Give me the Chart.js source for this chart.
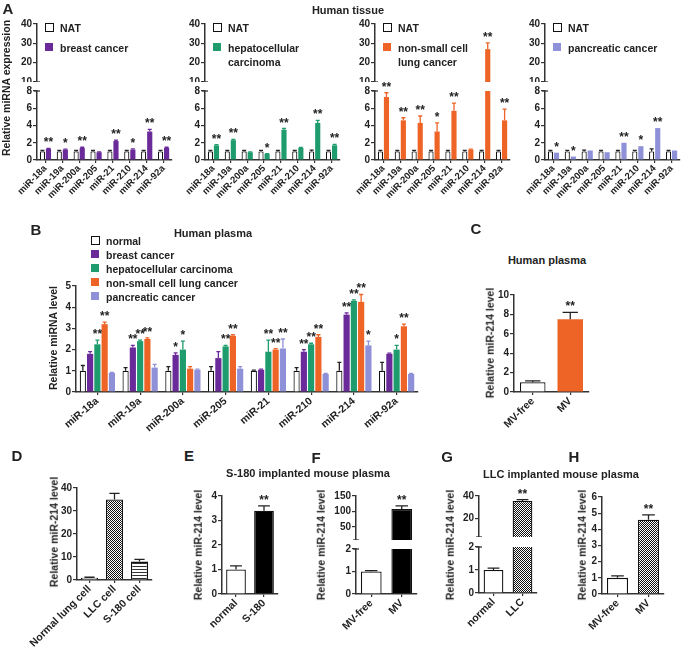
<!DOCTYPE html>
<html>
<head>
<meta charset="utf-8">
<script src="https://cdn.jsdelivr.net/npm/chart.js@4.4.1/dist/chart.umd.min.js"></script>
<style>
body { margin: 0; background: #fff; }
#fig { position: relative; width: 685px; height: 651px; overflow: hidden; font-family: "Liberation Sans", Arial, sans-serif; font-weight: bold; color: #222; }
#fig canvas { position: absolute; }
.t { position: absolute; white-space: nowrap; line-height: 1; transform: translate(-50%, -50%); }
.yt { transform: translate(-50%, -50%) rotate(-90deg); }
.lg { position: absolute; white-space: nowrap; font-size: 10.5px; line-height: 14px; }
.sw { position: absolute; width: 8px; height: 8px; }
</style>
</head>
<body>
<div id="fig"></div>
<script>
// --=| data
const miRNAs = ["miR-18a", "miR-19a", "miR-200a", "miR-205", "miR-21", "miR-210", "miR-214", "miR-92a"];

// A - human tissue
const natTissue = [1, 1, 1, 1, 1, 1, 1, 1];
const natErrBreast = [0.1, 0.1, 0.1, 0.1, 0.1, 0.1, 0.1, 0.12];
const natErrHcc = [0.1, 0.1, 0.1, 0.12, 0.1, 0.1, 0.15, 0.1];
const natErrNsclc = [0.12, 0.1, 0.12, 0.1, 0.1, 0.12, 0.1, 0.1];
const natErrPanc = [0.1, 0.12, 0.15, 0.1, 0.1, 0.12, 0.3, 0.1];
const breastTissue = [1.3, 1.2, 1.4, 0.9, 2.2, 1.2, 3.3, 1.4];
const breastTissueErr = [0.05, 0.05, 0.08, 0.05, 0.1, 0.08, 0.25, 0.08];
const breastTissueSig = ["**", "*", "**", "", "**", "*", "**", "**"];
const hccTissue = [1.7, 2.3, 0.9, 0.7, 3.5, 1.4, 4.3, 1.7];
const hccTissueErr = [0.08, 0.1, 0.05, 0.05, 0.15, 0.05, 0.3, 0.1];
const hccTissueSig = ["**", "**", "", "*", "**", "", "**", "**"];
const nsclcTissue = [7.3, 4.6, 4.3, 3.3, 5.7, 1.2, 27, 4.6];
const nsclcTissueErr = [0.5, 0.3, 0.8, 1.0, 0.9, 0.05, 3.2, 1.3];
const nsclcTissueSig = ["**", "**", "**", "*", "**", "", "**", "**"];
const pancTissue = [0.85, 0.4, 1.1, 0.9, 2.0, 1.6, 3.7, 1.1];
const pancTissueErr = [0, 0, 0, 0, 0, 0, 0, 0];
const pancTissueSig = ["*", "*", "", "", "**", "*", "**", ""];
const ticksALow = [0, 2, 4, 6, 8];
const ticksAHigh = [10, 20, 30, 40];

// B - human plasma
const normalPlasma = [1, 1, 1, 1, 1, 1, 1, 1];
const normalPlasmaErr = [0.25, 0.15, 0.2, 0.2, 0.03, 0.15, 0.4, 0.4];
const breastPlasma = [1.8, 2.1, 1.75, 1.6, 1.05, 1.9, 3.65, 1.8];
const breastPlasmaErr = [0.1, 0.1, 0.1, 0.3, 0.03, 0.1, 0.08, 0.03];
const breastPlasmaSig = ["", "**", "*", "", "", "**", "**", ""];
const hccPlasma = [2.25, 2.4, 2.0, 2.15, 1.9, 2.25, 4.3, 2.0];
const hccPlasmaErr = [0.2, 0.05, 0.4, 0.05, 0.55, 0.05, 0.05, 0.2];
const hccPlasmaSig = ["**", "**", "*", "**", "**", "**", "**", "*"];
const nsclcPlasma = [3.2, 2.5, 1.1, 2.65, 2.0, 2.6, 4.25, 3.1];
const nsclcPlasmaErr = [0.1, 0.05, 0.1, 0.05, 0.05, 0.1, 0.35, 0.1];
const nsclcPlasmaSig = ["**", "**", "", "**", "**", "**", "**", "**"];
const pancPlasma = [0.9, 1.15, 1.05, 1.1, 2.05, 0.85, 2.2, 0.85];
const pancPlasmaErr = [0.03, 0.15, 0.03, 0.1, 0.45, 0.03, 0.2, 0.03];
const pancPlasmaSig = ["", "", "", "", "**", "", "*", ""];
const ticksB = [0, 1, 2, 3, 4, 5];

// C - human plasma, miR-214
const mvLabels = ["MV-free", "MV"];
const cVals = [1.0, 7.5];
const cErr = [0.15, 0.7];
const cSig = ["", "**"];
const ticksC = [0, 2, 4, 6, 8, 10];

// D - cells
const dLabels = ["Normal lung cell", "LLC cell", "S-180 cell"];
const dVals = [1, 35, 8];
const dErr = [0.2, 2.7, 1];
const ticksD = [0, 10, 20, 30, 40];

// E - S-180 mouse plasma
const eLabels = ["normal", "S-180"];
const eVals = [1.0, 3.4];
const eErr = [0.15, 0.2];
const eSig = ["", "**"];
const ticksE = [0, 1, 2, 3, 4];

// F - S-180 mouse plasma MV
const fVals = [1.0, 108];
const fErr = [0.04, 10];
const fSig = ["", "**"];
const ticksFLow = [0, 1, 2];
const ticksFHigh = [50, 100, 150];

// G - LLC mouse plasma
const gLabels = ["normal", "LLC"];
const gVals = [1.0, 35.5];
const gErr = [0.08, 1.2];
const gSig = ["", "**"];
const ticksGLow = [0, 1, 2];
const ticksGHigh = [20, 40];

// H - LLC mouse plasma MV
const hVals = [1.0, 4.6];
const hErr = [0.12, 0.3];
const hSig = ["", "**"];
const ticksH = [0, 1, 2, 3, 4, 5, 6];

// --=| style
const purple = "#6B2A9A", green = "#1E9C6D", orange = "#EE6427", lavender = "#8E91D7";
const ink = "#222";
Chart.defaults.font.family = '"Liberation Sans", Arial, sans-serif';
Chart.defaults.font.weight = "bold";
Chart.defaults.font.size = 10;
Chart.defaults.color = ink;

const fig = document.getElementById("fig");

function checker() {
  const c = document.createElement("canvas");
  c.width = c.height = 2;
  const g = c.getContext("2d");
  g.fillStyle = "#fff"; g.fillRect(0, 0, 2, 2);
  g.fillStyle = "#111"; g.fillRect(0, 0, 1, 1); g.fillRect(1, 1, 1, 1);
  return g.createPattern(c, "repeat");
}
function stripes() {
  const c = document.createElement("canvas");
  c.width = 4; c.height = 3;
  const g = c.getContext("2d");
  g.fillStyle = "#fff"; g.fillRect(0, 0, 4, 3);
  g.fillStyle = "#333"; g.fillRect(0, 0, 4, 1);
  return g.createPattern(c, "repeat");
}

// error bars + asterisks
const errPlugin = {
  id: "errbars",
  afterDatasetsDraw(chart) {
    const ctx = chart.ctx, y = chart.scales.y;
    chart.data.datasets.forEach((ds, i) => {
      chart.getDatasetMeta(i).data.forEach((bar, j) => {
        const v = ds.data[j], e = (ds.err || [])[j] || 0;
        if (v > y.max || v < y.min) return;
        const x = bar.x, y0 = y.getPixelForValue(v), y1 = y.getPixelForValue(v + e);
        ctx.save();
        if (e > 0) {
          ctx.strokeStyle = ds.errColor || ink;
          ctx.lineWidth = 1.3;
          const cw = Math.max(2, bar.width * 0.3);
          ctx.beginPath();
          ctx.moveTo(x, y0); ctx.lineTo(x, y1);
          ctx.moveTo(x - cw, y1); ctx.lineTo(x + cw, y1);
          ctx.stroke();
        }
        const s = (ds.sig || [])[j];
        if (s) {
          ctx.fillStyle = ink;
          ctx.font = 'bold 12px "Liberation Sans", Arial, sans-serif';
          ctx.textAlign = "center";
          ctx.textBaseline = "alphabetic";
          ctx.fillText(s, x, y1 - 2);
        }
        ctx.restore();
      });
    });
  }
};

// y-axis break marks on split axes
const breakPlugin = {
  id: "axisbreak",
  afterDraw(chart, args, opts) {
    if (!opts.at) return;
    const ctx = chart.ctx, a = chart.chartArea;
    const yy = opts.at === "top" ? a.top : a.bottom;
    ctx.save();
    ctx.strokeStyle = "#333";
    ctx.lineWidth = 1.3;
    ctx.beginPath();
    ctx.moveTo(a.left - 3, yy); ctx.lineTo(a.left + 3, yy);
    ctx.stroke();
    ctx.restore();
  }
};

const YW = 34, PT = 18, PR = 8;
function bars(area, o) {
  const xH = o.xH || 0, yw = o.yw || YW;
  const c = document.createElement("canvas");
  c.width = yw + (area[2] - area[0]) + PR;
  c.height = PT + (area[3] - area[1]) + xH;
  c.style.left = (area[0] - yw) + "px";
  c.style.top = (area[1] - PT) + "px";
  fig.appendChild(c);
  return new Chart(c, {
    type: "bar",
    data: { labels: o.labels, datasets: o.datasets },
    options: {
      responsive: false,
      animation: false,
      devicePixelRatio: 1,
      layout: { padding: { top: PT, right: PR, left: 0, bottom: 0 } },
      datasets: { bar: { categoryPercentage: o.cat, barPercentage: o.bar, clip: 0 } },
      plugins: { legend: { display: false }, tooltip: { enabled: false }, axisbreak: { at: o.brk } },
      scales: {
        x: {
          display: xH > 0,
          afterFit(s) { s.height = xH; s.paddingLeft = 0; s.paddingRight = 0; },
          grid: { drawOnChartArea: false, offset: false, tickLength: 3, color: "#333", lineWidth: 1.2 },
          border: { color: "#333", width: 1.5 },
          ticks: { autoSkip: false, minRotation: o.rot || 45, maxRotation: o.rot || 45, padding: 0, font: { size: o.xFont || 10 } }
        },
        y: {
          min: o.min,
          max: o.max,
          afterFit(s) { s.width = yw; s.paddingTop = 0; s.paddingBottom = 0; },
          afterBuildTicks(s) { s.ticks = o.ticks.map(v => ({ value: v })); },
          grid: { drawOnChartArea: false, tickLength: 4, color: "#333", lineWidth: 1.2 },
          border: { color: "#333", width: 1.5 },
          ticks: { padding: 1, font: { size: 10 } }
        }
      }
    },
    plugins: [errPlugin, breakPlugin]
  });
}

function text(str, x, y, size, cls) {
  const d = document.createElement("div");
  d.className = "t" + (cls ? " " + cls : "");
  d.style.left = x + "px";
  d.style.top = y + "px";
  d.style.fontSize = size + "px";
  d.textContent = str;
  fig.appendChild(d);
}

function legendItem(x, y, fill, label) {
  const b = document.createElement("div");
  b.className = "sw";
  b.style.left = x + "px";
  b.style.top = (y - 5) + "px";
  if (fill) b.style.background = fill;
  else { b.style.background = "#fff"; b.style.border = "1.5px solid #111"; b.style.width = "7px"; b.style.height = "7px"; }
  fig.appendChild(b);
  const t = document.createElement("div");
  t.className = "lg";
  t.style.left = (x + 15) + "px";
  t.style.top = (y - 7) + "px";
  t.innerHTML = label;
  fig.appendChild(t);
}

// --=| A: human tissue
function tissuePanel(x0, natErr, vals, err, sig, color, label) {
  const sets = () => [
    { data: natTissue, err: natErr, backgroundColor: "#fff", borderColor: "#111", borderWidth: 1.2 },
    { data: vals, err: err, sig: sig, backgroundColor: color, borderWidth: 0, errColor: color }
  ];
  bars([x0, 91, x0 + 135, 160], { labels: miRNAs, datasets: sets(), xH: 45, rot: 45, xFont: 9.5, min: 0, max: 8, ticks: ticksALow, cat: 0.72, bar: 0.85, brk: "top" });
  bars([x0, 24, x0 + 135, 82], { labels: miRNAs, datasets: sets(), xH: 0, min: 10, max: 40, ticks: ticksAHigh, cat: 0.72, bar: 0.85, brk: "bottom" });
  legendItem(x0 + 8, 28, null, "NAT");
  legendItem(x0 + 8, 48, color, label);
}
tissuePanel(37, natErrBreast, breastTissue, breastTissueErr, breastTissueSig, purple, "breast cancer");
tissuePanel(205, natErrHcc, hccTissue, hccTissueErr, hccTissueSig, green, "hepatocellular<br>carcinoma");
tissuePanel(375, natErrNsclc, nsclcTissue, nsclcTissueErr, nsclcTissueSig, orange, "non-small cell<br>lung cancer");
tissuePanel(545, natErrPanc, pancTissue, pancTissueErr, pancTissueSig, lavender, "pancreatic cancer");
text("A", 8, 8, 15);
text("Human tissue", 348, 10, 11);
text("Relative miRNA expression", 6, 88, 10.5, "yt");

// --=| B: human plasma
bars([76, 286, 418, 392], {
  labels: miRNAs, xH: 50, rot: 40, xFont: 10.5, min: 0, max: 5, ticks: ticksB, cat: 0.85, bar: 0.85,
  datasets: [
    { data: normalPlasma, err: normalPlasmaErr, backgroundColor: "#fff", borderColor: "#111", borderWidth: 1.2 },
    { data: breastPlasma, err: breastPlasmaErr, sig: breastPlasmaSig, backgroundColor: purple, errColor: purple },
    { data: hccPlasma, err: hccPlasmaErr, sig: hccPlasmaSig, backgroundColor: green, errColor: green },
    { data: nsclcPlasma, err: nsclcPlasmaErr, sig: nsclcPlasmaSig, backgroundColor: orange, errColor: orange },
    { data: pancPlasma, err: pancPlasmaErr, sig: pancPlasmaSig, backgroundColor: lavender, errColor: lavender }
  ]
});
text("B", 36, 229, 15);
text("Human plasma", 213, 233, 11);
text("Relative miRNA level", 53, 338, 10.5, "yt");
legendItem(91, 241, null, "normal");
legendItem(91, 255, purple, "breast cancer");
legendItem(91, 269, green, "hepatocellular carcinoma");
legendItem(91, 283, orange, "non-small cell lung cancer");
legendItem(91, 297, lavender, "pancreatic cancer");

// --=| C
bars([514, 295, 589, 392], {
  labels: mvLabels, xH: 50, rot: 45, xFont: 10.5, min: 0, max: 10, ticks: ticksC, cat: 0.8, bar: 0.85,
  datasets: [{ data: cVals, err: cErr, sig: cSig, backgroundColor: ["#fff", orange], borderColor: ["#111", orange], borderWidth: [1.2, 0] }]
});
text("C", 476, 228, 15);
text("Human plasma", 547, 260, 11);
text("Relative miR-214 level", 490, 343, 10.5, "yt");

// --=| D
bars([77, 488, 152, 580], {
  labels: dLabels, xH: 70, rot: 45, xFont: 10.5, yw: 75, min: 0, max: 40, ticks: ticksD, cat: 0.8, bar: 0.85,
  datasets: [{ data: dVals, err: dErr, backgroundColor: ["#fff", checker(), stripes()], borderColor: "#111", borderWidth: 1.3 }]
});
text("D", 17, 455, 15);
text("Relative miR-214 level", 54, 532, 10.5, "yt");

// --=| E
bars([222, 496, 278, 594], {
  labels: eLabels, xH: 50, rot: 45, xFont: 10.5, min: 0, max: 4, ticks: ticksE, cat: 0.8, bar: 0.88,
  datasets: [{ data: eVals, err: eErr, sig: eSig, backgroundColor: ["#fff", "#000"], borderColor: "#111", borderWidth: 1.3 }]
});
text("E", 189, 455, 15);
text("S-180 implanted mouse plasma", 308, 473, 11);
text("Relative miR-214 level", 198, 545, 10.5, "yt");

// --=| F (broken axis)
const fSets = () => [{ data: fVals, err: fErr, sig: fSig, backgroundColor: ["#fff", "#000"], borderColor: "#111", borderWidth: 1.3 }];
bars([356, 549, 417, 594], { labels: mvLabels, datasets: fSets(), xH: 50, rot: 45, xFont: 10.5, min: 0, max: 2, ticks: ticksFLow, cat: 0.8, bar: 0.85, brk: "top" });
bars([356, 496, 417, 540], { labels: mvLabels, datasets: fSets(), xH: 0, min: 8, max: 150, ticks: ticksFHigh, cat: 0.8, bar: 0.85, brk: "bottom" });
text("F", 316, 457, 15);
text("Relative miR-214 level", 321, 545, 10.5, "yt");

// --=| G (broken axis)
const gSets = () => [{ data: gVals, err: gErr, sig: gSig, backgroundColor: ["#fff", checker()], borderColor: "#111", borderWidth: 1.3 }];
bars([479, 547, 537, 593], { labels: gLabels, datasets: gSets(), xH: 50, rot: 45, xFont: 10.5, min: 0, max: 2, ticks: ticksGLow, cat: 0.8, bar: 0.85, brk: "top" });
bars([479, 496, 537, 537], { labels: gLabels, datasets: gSets(), xH: 0, min: 3, max: 40, ticks: ticksGHigh, cat: 0.8, bar: 0.85, brk: "bottom" });
text("G", 447, 456, 15);
text("LLC implanted mouse plasma", 561, 474, 11);
text("Relative miR-214 level", 450, 545, 10.5, "yt");

// --=| H
bars([602, 497, 664, 594], {
  labels: mvLabels, xH: 50, rot: 45, xFont: 10.5, min: 0, max: 6, ticks: ticksH, cat: 0.8, bar: 0.85,
  datasets: [{ data: hVals, err: hErr, sig: hSig, backgroundColor: ["#fff", checker()], borderColor: "#111", borderWidth: 1.3 }]
});
text("H", 574, 456, 15);
text("Relative miR-214 level", 582, 545, 10.5, "yt");
</script>
</body>
</html>
